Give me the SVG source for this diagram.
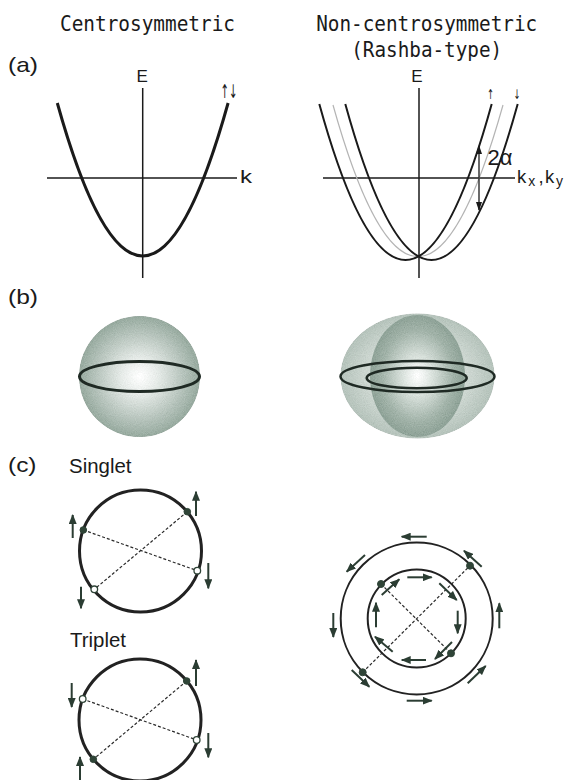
<svg xmlns="http://www.w3.org/2000/svg" width="569" height="780" viewBox="0 0 569 780">
<style>
.title{font-family:"DejaVu Sans Mono","Liberation Mono",monospace;font-size:22px;fill:#1a1a1a}
.lbl{font-family:"Liberation Sans",Arial,sans-serif;fill:#1a1a1a}
.arr{font-family:"DejaVu Sans",sans-serif;fill:#1a1a1a;font-variant-emoji:text}
.axis{stroke:#1a1a1a;stroke-width:1.5;fill:none}
.band{stroke:#1a1a1a;fill:none}
.ring{stroke:#1f2a24;fill:none}
.circ{stroke:#222;fill:none}
.dash{stroke:#2a2a2a;stroke-width:1.2;stroke-dasharray:3 2;fill:none}
.spin{stroke:#2b3d33;stroke-width:2;fill:none;marker-end:url(#ah)}
.dot{fill:#2f4437;stroke:#2f4437;stroke-width:1}
.odot{fill:#fff;stroke:#2f4437;stroke-width:1.3}
</style>
<defs>
<marker id="ah" markerUnits="userSpaceOnUse" markerWidth="10" markerHeight="8" refX="9" refY="4" orient="auto">
<path d="M0,0 L10,4 L0,8 z" fill="#2b3d33"/>
</marker>
<marker id="ah2" markerUnits="userSpaceOnUse" markerWidth="9" markerHeight="6" refX="8" refY="3" orient="auto-start-reverse">
<path d="M0,0 L9,3 L0,6 z" fill="#1a1a1a"/>
</marker>
<filter id="grain" x="0" y="0" width="1" height="1">
<feTurbulence type="fractalNoise" baseFrequency="1.1" numOctaves="1" seed="4" result="n"/>
<feColorMatrix in="n" type="matrix" values="0.33 0.33 0.33 0 0  0.33 0.33 0.33 0 0  0.33 0.33 0.33 0 0  0 0 0 0 1" result="g"/>
<feComposite in="g" in2="SourceGraphic" operator="arithmetic" k1="0" k2="0.3" k3="1" k4="-0.15" result="m"/>
<feComposite in="m" in2="SourceGraphic" operator="in"/>
</filter>
<radialGradient id="sph" cx="0.5" cy="0.5" r="0.5">
<stop offset="0" stop-color="#ffffff"/>
<stop offset="0.3" stop-color="#e6ebe8"/>
<stop offset="0.75" stop-color="#b3c1b9"/>
<stop offset="1" stop-color="#97aa9f"/>
</radialGradient>
<radialGradient id="sphOut" cx="0.5" cy="0.5" r="0.5">
<stop offset="0" stop-color="#eef2ef"/>
<stop offset="0.7" stop-color="#cbd5cf"/>
<stop offset="1" stop-color="#b5c3bb"/>
</radialGradient>
<radialGradient id="sphIn" cx="0.5" cy="0.5" r="0.5">
<stop offset="0" stop-color="#ffffff"/>
<stop offset="0.3" stop-color="#dbe3de"/>
<stop offset="0.75" stop-color="#a2b3a9"/>
<stop offset="1" stop-color="#8ea297"/>
</radialGradient>
</defs>
<rect width="569" height="780" fill="#fff"/>

<g id="titles">
<text class="title" x="147.5" y="30.5" text-anchor="middle" textLength="175" lengthAdjust="spacingAndGlyphs">Centrosymmetric</text>
<text class="title" x="426.7" y="30.5" text-anchor="middle" textLength="221" lengthAdjust="spacingAndGlyphs">Non-centrosymmetric</text>
<text class="title" x="426.7" y="56.5" text-anchor="middle" textLength="151" lengthAdjust="spacingAndGlyphs">(Rashba-type)</text>
</g>

<g id="panel-labels">
<text class="lbl" x="8" y="72" font-size="21" textLength="30" lengthAdjust="spacingAndGlyphs">(a)</text>
<text class="lbl" x="8" y="303.5" font-size="21" textLength="30" lengthAdjust="spacingAndGlyphs">(b)</text>
<text class="lbl" x="8" y="472" font-size="21" textLength="28.5" lengthAdjust="spacingAndGlyphs">(c)</text>
</g>

<g id="a-centro">
<line class="axis" x1="142.7" y1="88" x2="142.7" y2="278"/>
<line class="axis" x1="47" y1="178" x2="237" y2="178"/>
<path class="band" stroke-width="3" d="M57.3,103 Q142.7,409 228.1,103"/>
<text class="lbl" x="142.2" y="82" font-size="17" text-anchor="middle">E</text>
<text class="lbl" x="240" y="183.3" font-size="18.5" textLength="12" lengthAdjust="spacingAndGlyphs">k</text>
<text class="arr" x="220.5" y="98" font-size="19" textLength="17" lengthAdjust="spacingAndGlyphs">↑︎↓︎</text>
</g>

<g id="a-rashba">
<line class="axis" x1="419" y1="88" x2="419" y2="278"/>
<line class="axis" x1="323" y1="178" x2="515" y2="178"/>
<path stroke="#b4b4b4" stroke-width="1.2" fill="none" d="M333,105 Q418,408.4 503,105"/>
<path class="band" stroke-width="2" d="M319.3,104 Q405.5,416 491.7,104"/>
<path class="band" stroke-width="2" d="M345.3,104 Q431.5,416 517.7,104"/>
<line stroke="#1a1a1a" stroke-width="1.3" x1="479" y1="146" x2="479" y2="210" marker-start="url(#ah2)" marker-end="url(#ah2)"/>
<text class="lbl" x="487.5" y="165" font-size="22">2α</text>
<text class="lbl" x="417" y="82" font-size="17" text-anchor="middle">E</text>
<text class="lbl" font-size="18.5"><tspan x="517" y="182.7">k</tspan><tspan x="528.3" y="185.5" font-size="14">x</tspan><tspan x="538.5" y="182.7">,</tspan><tspan x="545" y="182.7">k</tspan><tspan x="556" y="185.5" font-size="14">y</tspan></text>
<text class="arr" x="490.5" y="98.5" font-size="13.5" text-anchor="middle" textLength="7" lengthAdjust="spacingAndGlyphs">↑︎</text>
<text class="arr" x="517" y="98.5" font-size="13.5" text-anchor="middle" textLength="7" lengthAdjust="spacingAndGlyphs">↓︎</text>
</g>

<g id="b-centro">
<circle cx="139.5" cy="376.5" r="60.5" fill="url(#sph)" filter="url(#grain)"/>
<ellipse class="ring" stroke-width="3" cx="139.5" cy="376.5" rx="60" ry="15"/>
</g>

<g id="b-rashba">
<g filter="url(#grain)">
<ellipse cx="417.5" cy="376" rx="77" ry="62.5" fill="url(#sphOut)"/>
<ellipse cx="417.5" cy="376" rx="47.5" ry="61" fill="url(#sphIn)"/>
</g>
<ellipse class="ring" stroke-width="2.5" cx="417.5" cy="376.5" rx="77" ry="15.5"/>
<ellipse class="ring" stroke-width="2.5" cx="416.7" cy="378" rx="50" ry="10.3"/>
</g>

<g id="c-singlet">
<text class="lbl" x="69" y="473" font-size="19.5" textLength="62.5" lengthAdjust="spacingAndGlyphs">Singlet</text>
<circle class="circ" stroke-width="3" cx="140.5" cy="551" r="61"/>
<line class="dash" x1="83.3" y1="530" x2="197.3" y2="570.7"/>
<line class="dash" x1="187.3" y1="511.7" x2="94.3" y2="589.3"/>
<circle class="dot" cx="187.3" cy="511.7" r="3.3"/>
<circle class="dot" cx="83.3" cy="530" r="3.3"/>
<circle class="odot" cx="197.3" cy="570.7" r="3.3"/>
<circle class="odot" cx="94.3" cy="589.3" r="3.3"/>
</g>

<g id="c-triplet">
<text class="lbl" x="70" y="647" font-size="19.5" textLength="56" lengthAdjust="spacingAndGlyphs">Triplet</text>
<circle class="circ" stroke-width="3" cx="140" cy="720" r="61"/>
<line class="dash" x1="82.7" y1="699" x2="196.7" y2="740"/>
<line class="dash" x1="186.7" y1="681" x2="93.3" y2="759.3"/>
<circle class="dot" cx="186.7" cy="681" r="3.3"/>
<circle class="odot" cx="82.7" cy="699" r="3.3"/>
<circle class="odot" cx="196.7" cy="740" r="3.3"/>
<circle class="dot" cx="93.3" cy="759.3" r="3.3"/>
</g>

<g id="c-rashba">
<circle class="circ" stroke-width="2" cx="416.7" cy="618.5" r="76"/>
<circle class="circ" stroke-width="2" cx="416.7" cy="618.5" r="49"/>
<line class="dash" x1="362.7" y1="672.3" x2="470" y2="565.7"/>
<line class="dash" x1="381" y1="584" x2="451" y2="653.3"/>
<circle class="dot" cx="470" cy="565.7" r="3.5"/>
<circle class="dot" cx="362.7" cy="672.3" r="3.5"/>
<circle class="dot" cx="381" cy="584" r="3.5"/>
<circle class="dot" cx="451" cy="653.3" r="3.5"/>
</g>

<g id="connectors">
<line class="spin" x1="196" y1="516" x2="196" y2="491.7"/>
<line class="spin" x1="72.7" y1="538" x2="72.7" y2="515"/>
<line class="spin" x1="208.3" y1="563" x2="208.3" y2="588.3"/>
<line class="spin" x1="81" y1="586.7" x2="81" y2="608.3"/>
<line class="spin" x1="196" y1="686" x2="196" y2="660"/>
<line class="spin" x1="71.7" y1="683" x2="71.7" y2="707"/>
<line class="spin" x1="208.3" y1="733" x2="208.3" y2="757.3"/>
<line class="spin" x1="80" y1="780" x2="80" y2="757"/>
<line class="spin" x1="426.7" y1="536.7" x2="401.7" y2="536.7"/>
<line class="spin" x1="365" y1="555" x2="346.7" y2="571.7"/>
<line class="spin" x1="333.3" y1="613" x2="333.3" y2="637"/>
<line class="spin" x1="351.7" y1="670" x2="369.3" y2="686.7"/>
<line class="spin" x1="406.7" y1="700.7" x2="431.7" y2="700.7"/>
<line class="spin" x1="467.7" y1="683.3" x2="485.7" y2="666"/>
<line class="spin" x1="499.3" y1="628.3" x2="499.3" y2="603.3"/>
<line class="spin" x1="481.7" y1="566.7" x2="464" y2="550.7"/>
<line class="spin" x1="407.3" y1="577.3" x2="431.7" y2="577.3"/>
<line class="spin" x1="439.3" y1="583.3" x2="456.7" y2="600"/>
<line class="spin" x1="457.7" y1="610.7" x2="457.7" y2="633.3"/>
<line class="spin" x1="452" y1="642" x2="435" y2="659"/>
<line class="spin" x1="426" y1="660" x2="401.7" y2="660"/>
<line class="spin" x1="392.7" y1="651.7" x2="375" y2="636.7"/>
<line class="spin" x1="376" y1="627.3" x2="376" y2="602.7"/>
<line class="spin" x1="381.7" y1="595" x2="399.3" y2="579.3"/>
</g>
</svg>
